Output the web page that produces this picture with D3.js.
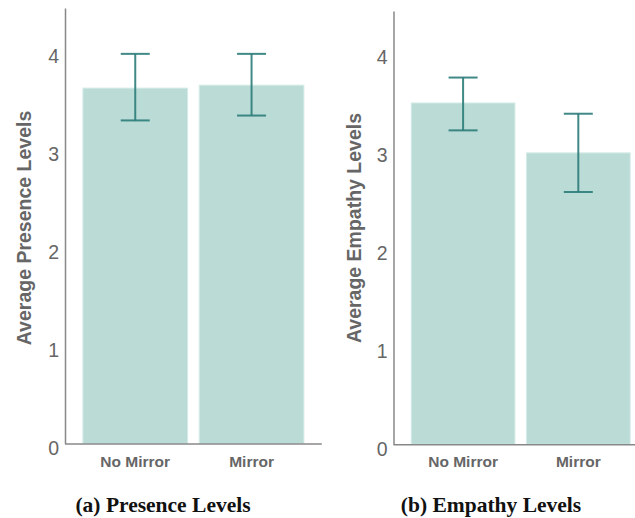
<!DOCTYPE html>
<html><head><meta charset="utf-8">
<script src="https://cdn.jsdelivr.net/npm/d3@7"></script>
<style>body{margin:0;background:#fff}svg{display:block}</style>
</head><body>
<svg id="c" width="635" height="518"></svg>
<script>
const categories = ["No Mirror", "Mirror"];
const presenceMeans = [3.63, 3.66];
const presenceLow = [3.30, 3.35];
const presenceHigh = [3.98, 3.98];
const empathyMeans = [3.49, 2.98];
const empathyLow = [3.21, 2.58];
const empathyHigh = [3.75, 3.38];
const yTicks = [0, 1, 2, 3, 4];
const yLabels = ["Average Presence Levels", "Average Empathy Levels"];
const captions = ["(a) Presence Levels", "(b) Empathy Levels"];

const svg = d3.select("#c");
const panels = [
  {means: presenceMeans, low: presenceLow, high: presenceHigh, x0: 65, x1: 321.8, y0: 443.5, unit: 97.9, top: 8, labelX: 24, labelY: 228, capX: 163, ylab: yLabels[0], cap: captions[0]},
  {means: empathyMeans, low: empathyLow, high: empathyHigh, x0: 393.5, x1: 647.9, y0: 444.3, unit: 97.8, top: 11, labelX: 354, labelY: 228, capX: 491, ylab: yLabels[1], cap: captions[1]}
];

panels.forEach(p => {
  const g = svg.append("g");
  const x = d3.scaleBand().domain(categories).range([p.x0, p.x1]).paddingInner(0.1).paddingOuter(0.154);
  const yMax = (p.y0 - p.top) / p.unit;
  const y = d3.scaleLinear().domain([0, yMax]).range([p.y0, p.top]);

  g.selectAll("rect.bar").data(categories).join("rect")
    .attr("x", d => x(d)).attr("width", x.bandwidth())
    .attr("y", (d, i) => y(p.means[i])).attr("height", (d, i) => y(0) - y(p.means[i]))
    .attr("fill", "#bbdbd6").attr("stroke", "#d4ebe7").attr("stroke-width", 1);

  const capW = 29;
  categories.forEach((d, i) => {
    const cx = x(d) + x.bandwidth() / 2;
    const eg = g.append("g").attr("stroke", "#2b7c79").attr("stroke-width", 2).attr("stroke-opacity", 0.9);
    eg.append("line").attr("x1", cx).attr("x2", cx).attr("y1", y(p.high[i])).attr("y2", y(p.low[i]));
    eg.append("line").attr("x1", cx - capW / 2).attr("x2", cx + capW / 2).attr("y1", y(p.high[i])).attr("y2", y(p.high[i]));
    eg.append("line").attr("x1", cx - capW / 2).attr("x2", cx + capW / 2).attr("y1", y(p.low[i])).attr("y2", y(p.low[i]));
  });

  const ya = d3.axisLeft(y).tickValues(yTicks).tickFormat(d3.format("d")).tickSize(0).tickPadding(6);
  const yg = g.append("g").attr("transform", `translate(${p.x0},0)`).call(ya);
  yg.select(".domain").attr("stroke", "#888").attr("stroke-width", 1.5);
  yg.selectAll("text").attr("fill", "#666").attr("font-family", "Liberation Sans, Arial, sans-serif")
    .attr("font-size", 19.5).attr("dy", "0.55em");

  const xa = d3.axisBottom(x).tickSize(0).tickPadding(12);
  const xg = g.append("g").attr("transform", `translate(0,${p.y0})`).call(xa);
  xg.select(".domain").attr("stroke", "#888").attr("stroke-width", 1.5).attr("d", `M${p.x0},0.5H${p.x1}`);
  xg.selectAll("text").attr("fill", "#666").attr("font-family", "Liberation Sans, Arial, sans-serif")
    .attr("font-size", 15.5).attr("font-weight", "bold");

  g.append("text").attr("transform", `translate(${p.labelX},${p.labelY}) rotate(-90)`)
    .attr("text-anchor", "middle").attr("dy", "0.35em")
    .attr("fill", "#666").attr("font-family", "Liberation Sans, Arial, sans-serif")
    .attr("font-size", 19.5).attr("font-weight", "bold").text(p.ylab);

  g.append("text").attr("x", p.capX).attr("y", 512).attr("text-anchor", "middle")
    .attr("fill", "#111").attr("font-family", "Liberation Serif, Times New Roman, serif")
    .attr("font-size", 21.5).attr("font-weight", "bold").text(p.cap);
});
</script>
</body></html>
